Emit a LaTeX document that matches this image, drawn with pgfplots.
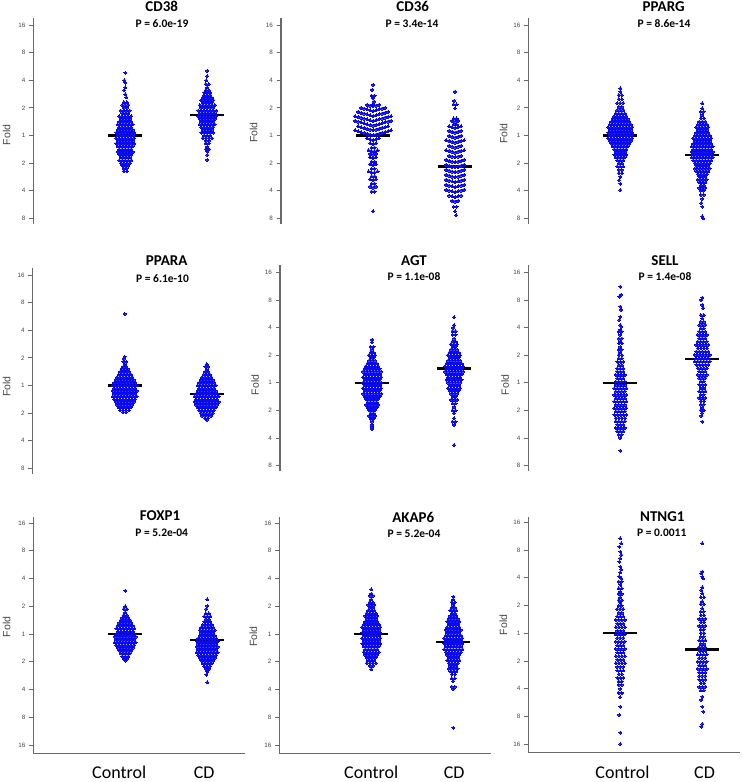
\documentclass[border=0pt]{standalone}
\usepackage{pgfplots}
\pgfplotsset{compat=1.18}
\usepackage{fontspec}
\setmainfont{Carlito}
\newfontfamily\arialf{Liberation Sans}
\definecolor{ptblue}{RGB}{10,10,240}
\definecolor{axgray}{RGB}{105,105,105}
\definecolor{lblgray}{RGB}{70,70,70}
\pgfplotsset{
 beebase/.style={scale only axis, width=212pt, xmin=0, xmax=212, clip=false,
   axis y line*=left, y axis line style={draw=axgray, line width=1.1pt},
   tick align=outside, major tick length=4.5pt,
   ytick style={draw=axgray, line width=0.8pt},
   yticklabel style={font=\arialf\fontsize{6.3}{7}\selectfont, text=lblgray},
   xtick=\empty, anchor=north west},
 toprow/.style={beebase, axis x line=none, ymin=-3.2, ymax=4.25, height=205.62pt,
   ytick={-3,-2,-1,0,1,2,3,4}, yticklabels={8,4,2,1,2,4,8,16}},
 botrow/.style={beebase, axis x line*=bottom, x axis line style={draw=axgray, line width=1.1pt},
   ymin=-4.3, ymax=4.2, height=235.875pt,
   ytick={-4,-3,-2,-1,0,1,2,3,4}, yticklabels={16,8,4,2,1,2,4,8,16}},
 pts/.style={color=ptblue, only marks, mark=*, mark size=1.5pt, mark options={draw=ptblue, fill=ptblue, line width=0pt}},
 med/.style={black, line width=2.3pt, mark=none},
}
\tikzset{
 ttl/.style={font=\bfseries\fontsize{15}{17}\selectfont, inner sep=0pt},
 pv/.style={font=\bfseries\fontsize{11.5}{13}\selectfont, inner sep=0pt},
 fold/.style={rotate=90, font=\arialf\fontsize{10.5}{12}\selectfont, text=lblgray, inner sep=0pt},
 grp/.style={font=\fontsize{18}{20}\selectfont, anchor=base, inner sep=0pt},
}
\begin{document}
\begin{tikzpicture}
\useasboundingbox (0pt,0pt) rectangle (742pt,-782pt);

% ===== CD38 =====
\begin{axis}[toprow, at={(33.3pt,-18.1pt)}]
\addplot[pts] coordinates {
(92,2.27)(91,2)(92,1.91)(92,1.74)(91,1.64)(92,1.49)(93,1.38)
(90.5,1.2)(93.5,1.2)
(89,1.1)(92,1.1)(95,1.1)
(90.5,1)(93.5,1)
(87.5,.9)(90.5,.9)(93.5,.9)(96.5,.9)
(89,.8)(92,.8)(95,.8)
(86,.7)(89,.7)(92,.7)(95,.7)(98,.7)
(87.5,.6)(90.5,.6)(93.5,.6)(96.5,.6)
(86,.5)(89,.5)(92,.5)(95,.5)(98,.5)
(84.5,.4)(87.5,.4)(90.5,.4)(93.5,.4)(96.5,.4)(99.5,.4)
(86,.3)(89,.3)(92,.3)(95,.3)(98,.3)
(84.5,.2)(87.5,.2)(90.5,.2)(93.5,.2)(96.5,.2)(99.5,.2)
(83,.1)(86,.1)(89,.1)(92,.1)(95,.1)(98,.1)(101,.1)
(84.5,0)(87.5,0)(90.5,0)(93.5,0)(96.5,0)(99.5,0)
(83,-.1)(86,-.1)(89,-.1)(92,-.1)(95,-.1)(98,-.1)(101,-.1)
(84.5,-.2)(87.5,-.2)(90.5,-.2)(93.5,-.2)(96.5,-.2)(99.5,-.2)
(83,-.3)(86,-.3)(89,-.3)(92,-.3)(95,-.3)(98,-.3)(101,-.3)
(84.5,-.4)(87.5,-.4)(90.5,-.4)(93.5,-.4)(96.5,-.4)(99.5,-.4)
(86,-.5)(89,-.5)(92,-.5)(95,-.5)(98,-.5)
(84.5,-.6)(87.5,-.6)(90.5,-.6)(93.5,-.6)(96.5,-.6)(99.5,-.6)
(86,-.7)(89,-.7)(92,-.7)(95,-.7)(98,-.7)
(87.5,-.8)(90.5,-.8)(93.5,-.8)(96.5,-.8)
(86,-.9)(89,-.9)(92,-.9)(95,-.9)(98,-.9)
(87.5,-1)(90.5,-1)(93.5,-1)(96.5,-1)
(89,-1.1)(92,-1.1)(95,-1.1)
(90.5,-1.2)(93.5,-1.2)
(90.5,-1.3)(93.5,-1.3)
};
\addplot[pts] coordinates {
(174,2.34)(174,2.15)(173,2)(172.5,1.86)(175.5,1.86)(174,1.74)(172.5,1.64)(175.5,1.64)
(171,1.55)(174,1.55)(177,1.55)
(171,1.46)(174,1.46)(177,1.46)
(169.5,1.37)(172.5,1.37)(175.5,1.37)(178.5,1.37)
(168,1.28)(171,1.28)(174,1.28)(177,1.28)(180,1.28)
(169.5,1.19)(172.5,1.19)(175.5,1.19)(178.5,1.19)
(166.5,1.1)(169.5,1.1)(172.5,1.1)(175.5,1.1)(178.5,1.1)(181.5,1.1)
(168,1)(171,1)(174,1)(177,1)(180,1)
(165,.9)(168,.9)(171,.9)(174,.9)(177,.9)(180,.9)(183,.9)
(166.5,.8)(169.5,.8)(172.5,.8)(175.5,.8)(178.5,.8)(181.5,.8)
(165,.7)(168,.7)(171,.7)(174,.7)(177,.7)(180,.7)(183,.7)
(166.5,.6)(169.5,.6)(172.5,.6)(175.5,.6)(178.5,.6)(181.5,.6)
(168,.5)(171,.5)(174,.5)(177,.5)(180,.5)
(166.5,.4)(169.5,.4)(172.5,.4)(175.5,.4)(178.5,.4)(181.5,.4)
(168,.3)(171,.3)(174,.3)(177,.3)(180,.3)
(169.5,.2)(172.5,.2)(175.5,.2)(178.5,.2)
(168,.1)(171,.1)(174,.1)(177,.1)(180,.1)
(171,0)(174,0)(177,0)
(169.5,-.1)(172.5,-.1)(175.5,-.1)(178.5,-.1)
(172.5,-.2)(175.5,-.2)
(172.5,-.29)(175.5,-.29)
(174,-.41)(172.5,-.5)(175.5,-.5)(174,-.59)(174,-.71)(174,-.89)
};
\addplot[med] coordinates {(75,0)(109,0)};
\addplot[med] coordinates {(157,.74)(191,.74)};
\end{axis}

% ===== CD36 =====
\begin{axis}[toprow, at={(281pt,-18.1pt)}]
\addplot[pts] coordinates {
(92,1.83)(91,1.65)(90.5,1.44)(93.5,1.44)(92,1.34)(93,1.22)(92,1.12)
(86,1.11)(89,1.08)(92,1.05)(95,1.08)(98,1.11)
(80,1.0)(83,.97)(86,.94)(89,.91)(92,.88)(95,.91)(98,.94)(101,.97)(104,1.0)
(77,.85)(80,.82)(83,.79)(86,.76)(89,.73)(92,.7)(95,.73)(98,.76)(101,.79)(104,.82)(107,.85)
(74,.7)(77,.67)(80,.64)(83,.61)(86,.58)(89,.55)(92,.52)(95,.55)(98,.58)(101,.61)(104,.64)(107,.67)(110,.7)
(74,.53)(77,.5)(80,.47)(83,.44)(86,.41)(89,.38)(92,.35)(95,.38)(98,.41)(101,.44)(104,.47)(107,.5)(110,.53)
(77,.33)(80,.3)(83,.27)(86,.24)(89,.21)(92,.18)(95,.21)(98,.24)(101,.27)(104,.3)(107,.33)
(74,.18)(77,.15)(80,.12)(83,.09)(86,.06)(89,.03)(92,0)(95,.03)(98,.06)(101,.09)(104,.12)(107,.15)(110,.18)
(86,-.11)(89,-.14)(92,-.17)(95,-.14)(98,-.11)
(89,-.29)(92,-.32)(95,-.29)
(90.5,-.44)(93.5,-.44)
(87.5,-.53)(90.5,-.57)(93.5,-.57)(96.5,-.53)
(89,-.67)(92,-.7)(95,-.67)
(89,-.8)(92,-.83)(95,-.8)
(90.5,-.95)(93.5,-.95)
(89,-1.04)(92,-1.07)(95,-1.04)
(90.5,-1.2)(93.5,-1.2)
(87.5,-1.3)(90.5,-1.34)(93.5,-1.34)(96.5,-1.3)
(90.5,-1.48)(93.5,-1.48)
(89,-1.59)(92,-1.62)(95,-1.59)
(90.5,-1.75)(93.5,-1.75)
(89,-1.86)(92,-1.89)(95,-1.86)
(90.5,-2.04)(93.5,-2.04)
(92,-2.74)
};
\addplot[pts] coordinates {
(174,1.58)(173,1.25)(172.5,1.12)(175.5,1.12)(174,.98)(172.5,.62)(175.5,.62)(171,.53)(174,.5)(177,.53)(172.5,.4)(175.5,.4)
(168,.33)(171,.3)(174,.27)(177,.3)(180,.33)
(168,.16)(171,.13)(174,.1)(177,.13)(180,.16)
(168,-.02)(171,-.05)(174,-.08)(177,-.05)(180,-.02)
(165,-.17)(168,-.2)(171,-.23)(174,-.26)(177,-.23)(180,-.2)(183,-.17)
(168,-.38)(171,-.41)(174,-.44)(177,-.41)(180,-.38)
(165,-.53)(168,-.56)(171,-.59)(174,-.62)(177,-.59)(180,-.56)(183,-.53)
(168,-.74)(171,-.77)(174,-.8)(177,-.77)(180,-.74)
(165,-.89)(168,-.92)(171,-.95)(174,-.98)(177,-.95)(180,-.92)(183,-.89)
(165,-1.07)(168,-1.1)(171,-1.13)(174,-1.16)(177,-1.13)(180,-1.1)(183,-1.07)
(165,-1.25)(168,-1.28)(171,-1.31)(174,-1.34)(177,-1.31)(180,-1.28)(183,-1.25)
(165,-1.43)(168,-1.46)(171,-1.49)(174,-1.52)(177,-1.49)(180,-1.46)(183,-1.43)
(165,-1.61)(168,-1.64)(171,-1.67)(174,-1.7)(177,-1.67)(180,-1.64)(183,-1.61)
(165,-1.79)(168,-1.82)(171,-1.85)(174,-1.88)(177,-1.85)(180,-1.82)(183,-1.79)
(165,-1.97)(168,-2.0)(171,-2.03)(174,-2.06)(177,-2.03)(180,-2.0)(183,-1.97)
(168,-2.18)(171,-2.21)(174,-2.24)(177,-2.21)(180,-2.18)
(171,-2.37)(174,-2.4)(177,-2.37)
(172.5,-2.58)(175.5,-2.58)(174,-2.75)(175,-2.9)
};
\addplot[med] coordinates {(75,0)(109,0)};
\addplot[med] coordinates {(157,-1.13)(191,-1.13)};
\end{axis}

% ===== PPARG =====
\begin{axis}[toprow, at={(528.3pt,-18.1pt)}]
\addplot[pts] coordinates {
(92,1.71)(92,1.58)
(90.5,1.46)(93.5,1.46)
(90.5,1.31)(93.5,1.31)
(89,1.17)(92,1.17)(95,1.17)
(90.5,1.04)(93.5,1.04)
(89,.92)(92,.92)(95,.92)
(87.5,.8)(90.5,.8)(93.5,.8)(96.5,.8)
(86,.7)(89,.7)(92,.7)(95,.7)(98,.7)
(84.5,.6)(87.5,.6)(90.5,.6)(93.5,.6)(96.5,.6)(99.5,.6)
(83,.5)(86,.5)(89,.5)(92,.5)(95,.5)(98,.5)(101,.5)
(81.5,.4)(84.5,.4)(87.5,.4)(90.5,.4)(93.5,.4)(96.5,.4)(99.5,.4)(102.5,.4)
(80,.3)(83,.3)(86,.3)(89,.3)(92,.3)(95,.3)(98,.3)(101,.3)(104,.3)
(81.5,.2)(84.5,.2)(87.5,.2)(90.5,.2)(93.5,.2)(96.5,.2)(99.5,.2)(102.5,.2)
(80,.1)(83,.1)(86,.1)(89,.1)(92,.1)(95,.1)(98,.1)(101,.1)(104,.1)
(81.5,0)(84.5,0)(87.5,0)(90.5,0)(93.5,0)(96.5,0)(99.5,0)(102.5,0)
(80,-.1)(83,-.1)(86,-.1)(89,-.1)(92,-.1)(95,-.1)(98,-.1)(101,-.1)(104,-.1)
(81.5,-.2)(84.5,-.2)(87.5,-.2)(90.5,-.2)(93.5,-.2)(96.5,-.2)(99.5,-.2)(102.5,-.2)
(83,-.3)(86,-.3)(89,-.3)(92,-.3)(95,-.3)(98,-.3)(101,-.3)
(84.5,-.4)(87.5,-.4)(90.5,-.4)(93.5,-.4)(96.5,-.4)(99.5,-.4)
(86,-.5)(89,-.5)(92,-.5)(95,-.5)(98,-.5)
(87.5,-.6)(90.5,-.6)(93.5,-.6)(96.5,-.6)
(86,-.7)(89,-.7)(92,-.7)(95,-.7)(98,-.7)
(87.5,-.8)(90.5,-.8)(93.5,-.8)(96.5,-.8)
(89,-.9)(92,-.9)(95,-.9)
(90.5,-1)(93.5,-1)
(89,-1.12)(92,-1.12)(95,-1.12)
(90.5,-1.25)(93.5,-1.25)
(90.5,-1.37)(93.5,-1.37)
(92,-1.5)(91,-1.62)(92,-1.75)(92,-1.98)
};
\addplot[pts] coordinates {
(174,1.16)(174,.98)(172.5,.86)(175.5,.86)(174,.74)(172.5,.62)(175.5,.62)
(171,.5)(174,.5)(177,.5)
(169.5,.4)(172.5,.4)(175.5,.4)(178.5,.4)
(168,.3)(171,.3)(174,.3)(177,.3)(180,.3)
(169.5,.2)(172.5,.2)(175.5,.2)(178.5,.2)
(168,.1)(171,.1)(174,.1)(177,.1)(180,.1)
(166.5,0)(169.5,0)(172.5,0)(175.5,0)(178.5,0)(181.5,0)
(165,-.1)(168,-.1)(171,-.1)(174,-.1)(177,-.1)(180,-.1)(183,-.1)
(166.5,-.2)(169.5,-.2)(172.5,-.2)(175.5,-.2)(178.5,-.2)(181.5,-.2)
(165,-.3)(168,-.3)(171,-.3)(174,-.3)(177,-.3)(180,-.3)(183,-.3)
(163.5,-.4)(166.5,-.4)(169.5,-.4)(172.5,-.4)(175.5,-.4)(178.5,-.4)(181.5,-.4)(184.5,-.4)
(165,-.5)(168,-.5)(171,-.5)(174,-.5)(177,-.5)(180,-.5)(183,-.5)
(163.5,-.6)(166.5,-.6)(169.5,-.6)(172.5,-.6)(175.5,-.6)(178.5,-.6)(181.5,-.6)(184.5,-.6)
(165,-.7)(168,-.7)(171,-.7)(174,-.7)(177,-.7)(180,-.7)(183,-.7)
(163.5,-.8)(166.5,-.8)(169.5,-.8)(172.5,-.8)(175.5,-.8)(178.5,-.8)(181.5,-.8)(184.5,-.8)
(165,-.9)(168,-.9)(171,-.9)(174,-.9)(177,-.9)(180,-.9)(183,-.9)
(166.5,-1)(169.5,-1)(172.5,-1)(175.5,-1)(178.5,-1)(181.5,-1)
(168,-1.1)(171,-1.1)(174,-1.1)(177,-1.1)(180,-1.1)
(166.5,-1.2)(169.5,-1.2)(172.5,-1.2)(175.5,-1.2)(178.5,-1.2)(181.5,-1.2)
(168,-1.3)(171,-1.3)(174,-1.3)(177,-1.3)(180,-1.3)
(169.5,-1.4)(172.5,-1.4)(175.5,-1.4)(178.5,-1.4)
(171,-1.5)(174,-1.5)(177,-1.5)
(169.5,-1.6)(172.5,-1.6)(175.5,-1.6)(178.5,-1.6)
(171,-1.7)(174,-1.7)(177,-1.7)
(172.5,-1.8)(175.5,-1.8)
(171,-1.9)(174,-1.9)(177,-1.9)
(172.5,-2)(175.5,-2)
(172.5,-2.15)(175.5,-2.15)
(174,-2.3)(173,-2.45)(174,-2.58)(174,-2.93)(175,-3.0)
};
\addplot[med] coordinates {(75,0)(109,0)};
\addplot[med] coordinates {(157,-.71)(191,-.71)};
\end{axis}

% ===== PPARA =====
\begin{axis}[toprow, at={(32.7pt,-268.1pt)}]
\addplot[pts] coordinates {
(92,2.59)(92,1.04)(91,.96)(90.5,.86)(93.5,.86)(92,.76)
(90.5,.68)(93.5,.68)
(89,.6)(92,.6)(95,.6)
(87.5,.5)(90.5,.5)(93.5,.5)(96.5,.5)
(86,.4)(89,.4)(92,.4)(95,.4)(98,.4)
(84.5,.3)(87.5,.3)(90.5,.3)(93.5,.3)(96.5,.3)(99.5,.3)
(83,.2)(86,.2)(89,.2)(92,.2)(95,.2)(98,.2)(101,.2)
(81.5,.1)(84.5,.1)(87.5,.1)(90.5,.1)(93.5,.1)(96.5,.1)(99.5,.1)(102.5,.1)
(80,0)(83,0)(86,0)(89,0)(92,0)(95,0)(98,0)(101,0)(104,0)
(81.5,-.1)(84.5,-.1)(87.5,-.1)(90.5,-.1)(93.5,-.1)(96.5,-.1)(99.5,-.1)(102.5,-.1)
(80,-.2)(83,-.2)(86,-.2)(89,-.2)(92,-.2)(95,-.2)(98,-.2)(101,-.2)(104,-.2)
(81.5,-.3)(84.5,-.3)(87.5,-.3)(90.5,-.3)(93.5,-.3)(96.5,-.3)(99.5,-.3)(102.5,-.3)
(80,-.4)(83,-.4)(86,-.4)(89,-.4)(92,-.4)(95,-.4)(98,-.4)(101,-.4)(104,-.4)
(81.5,-.5)(84.5,-.5)(87.5,-.5)(90.5,-.5)(93.5,-.5)(96.5,-.5)(99.5,-.5)(102.5,-.5)
(83,-.6)(86,-.6)(89,-.6)(92,-.6)(95,-.6)(98,-.6)(101,-.6)
(84.5,-.7)(87.5,-.7)(90.5,-.7)(93.5,-.7)(96.5,-.7)(99.5,-.7)
(86,-.8)(89,-.8)(92,-.8)(95,-.8)(98,-.8)
(87.5,-.9)(90.5,-.9)(93.5,-.9)(96.5,-.9)
(90.5,-.97)(93.5,-.97)
};
\addplot[pts] coordinates {
(174,.77)(172.5,.68)(175.5,.68)(174,.58)
(172.5,.5)(175.5,.5)
(171,.4)(174,.4)(177,.4)
(169.5,.3)(172.5,.3)(175.5,.3)(178.5,.3)
(168,.2)(171,.2)(174,.2)(177,.2)(180,.2)
(166.5,.1)(169.5,.1)(172.5,.1)(175.5,.1)(178.5,.1)(181.5,.1)
(165,0)(168,0)(171,0)(174,0)(177,0)(180,0)(183,0)
(166.5,-.1)(169.5,-.1)(172.5,-.1)(175.5,-.1)(178.5,-.1)(181.5,-.1)
(165,-.2)(168,-.2)(171,-.2)(174,-.2)(177,-.2)(180,-.2)(183,-.2)
(163.5,-.3)(166.5,-.3)(169.5,-.3)(172.5,-.3)(175.5,-.3)(178.5,-.3)(181.5,-.3)(184.5,-.3)
(162,-.4)(165,-.4)(168,-.4)(171,-.4)(174,-.4)(177,-.4)(180,-.4)(183,-.4)(186,-.4)
(163.5,-.5)(166.5,-.5)(169.5,-.5)(172.5,-.5)(175.5,-.5)(178.5,-.5)(181.5,-.5)(184.5,-.5)
(162,-.6)(165,-.6)(168,-.6)(171,-.6)(174,-.6)(177,-.6)(180,-.6)(183,-.6)(186,-.6)
(163.5,-.7)(166.5,-.7)(169.5,-.7)(172.5,-.7)(175.5,-.7)(178.5,-.7)(181.5,-.7)(184.5,-.7)
(165,-.8)(168,-.8)(171,-.8)(174,-.8)(177,-.8)(180,-.8)(183,-.8)
(166.5,-.9)(169.5,-.9)(172.5,-.9)(175.5,-.9)(178.5,-.9)(181.5,-.9)
(168,-1)(171,-1)(174,-1)(177,-1)(180,-1)
(169.5,-1.1)(172.5,-1.1)(175.5,-1.1)(178.5,-1.1)
(172.5,-1.19)(175.5,-1.19)(174,-1.25)
};
\addplot[med] coordinates {(75,0)(109,0)};
\addplot[med] coordinates {(157,-.32)(191,-.32)};
\end{axis}

% ===== AGT =====
\begin{axis}[toprow, at={(280pt,-265.4pt)}]
\addplot[pts] coordinates {
(92,1.55)(92,1.46)(90.5,1.3)(93.5,1.3)(92,1.2)(90.5,1.1)(93.5,1.1)
(89,1)(92,1)(95,1)
(90.5,.9)(93.5,.9)
(89,.8)(92,.8)(95,.8)
(87.5,.7)(90.5,.7)(93.5,.7)(96.5,.7)
(86,.6)(89,.6)(92,.6)(95,.6)(98,.6)
(84.5,.5)(87.5,.5)(90.5,.5)(93.5,.5)(96.5,.5)(99.5,.5)
(83,.4)(86,.4)(89,.4)(92,.4)(95,.4)(98,.4)(101,.4)
(84.5,.3)(87.5,.3)(90.5,.3)(93.5,.3)(96.5,.3)(99.5,.3)
(83,.2)(86,.2)(89,.2)(92,.2)(95,.2)(98,.2)(101,.2)
(84.5,.1)(87.5,.1)(90.5,.1)(93.5,.1)(96.5,.1)(99.5,.1)
(83,0)(86,0)(89,0)(92,0)(95,0)(98,0)(101,0)
(84.5,-.1)(87.5,-.1)(90.5,-.1)(93.5,-.1)(96.5,-.1)(99.5,-.1)
(83,-.2)(86,-.2)(89,-.2)(92,-.2)(95,-.2)(98,-.2)(101,-.2)
(84.5,-.3)(87.5,-.3)(90.5,-.3)(93.5,-.3)(96.5,-.3)(99.5,-.3)
(83,-.4)(86,-.4)(89,-.4)(92,-.4)(95,-.4)(98,-.4)(101,-.4)
(84.5,-.5)(87.5,-.5)(90.5,-.5)(93.5,-.5)(96.5,-.5)(99.5,-.5)
(86,-.6)(89,-.6)(92,-.6)(95,-.6)(98,-.6)
(87.5,-.7)(90.5,-.7)(93.5,-.7)(96.5,-.7)
(86,-.8)(89,-.8)(92,-.8)(95,-.8)(98,-.8)
(87.5,-.9)(90.5,-.9)(93.5,-.9)(96.5,-.9)
(89,-1)(92,-1)(95,-1)
(90.5,-1.1)(93.5,-1.1)
(89,-1.2)(92,-1.2)(95,-1.2)
(90.5,-1.3)(93.5,-1.3)
(92,-1.41)(92,-1.52)(92,-1.6)(92,-1.67)
};
\addplot[pts] coordinates {
(174,2.37)(174,2.09)(173,1.99)(172.5,1.87)(175.5,1.87)(172.5,1.73)(175.5,1.73)(174,1.6)
(172.5,1.5)(175.5,1.5)
(171,1.4)(174,1.4)(177,1.4)
(172.5,1.3)(175.5,1.3)
(171,1.2)(174,1.2)(177,1.2)
(169.5,1.1)(172.5,1.1)(175.5,1.1)(178.5,1.1)
(168,1)(171,1)(174,1)(177,1)(180,1)
(169.5,.9)(172.5,.9)(175.5,.9)(178.5,.9)
(168,.8)(171,.8)(174,.8)(177,.8)(180,.8)
(166.5,.7)(169.5,.7)(172.5,.7)(175.5,.7)(178.5,.7)(181.5,.7)
(165,.6)(168,.6)(171,.6)(174,.6)(177,.6)(180,.6)(183,.6)
(166.5,.5)(169.5,.5)(172.5,.5)(175.5,.5)(178.5,.5)(181.5,.5)
(165,.4)(168,.4)(171,.4)(174,.4)(177,.4)(180,.4)(183,.4)
(166.5,.3)(169.5,.3)(172.5,.3)(175.5,.3)(178.5,.3)(181.5,.3)
(168,.2)(171,.2)(174,.2)(177,.2)(180,.2)
(166.5,.1)(169.5,.1)(172.5,.1)(175.5,.1)(178.5,.1)(181.5,.1)
(168,0)(171,0)(174,0)(177,0)(180,0)
(169.5,-.1)(172.5,-.1)(175.5,-.1)(178.5,-.1)
(168,-.2)(171,-.2)(174,-.2)(177,-.2)(180,-.2)
(169.5,-.3)(172.5,-.3)(175.5,-.3)(178.5,-.3)
(171,-.4)(174,-.4)(177,-.4)
(172.5,-.5)(175.5,-.5)
(171,-.62)(174,-.62)(177,-.62)
(172.5,-.75)(175.5,-.75)
(174,-.88)(172.5,-1)(175.5,-1)(174,-1.1)(174,-1.29)(172.5,-1.41)(175.5,-1.41)(174,-1.53)(174,-2.26)
};
\addplot[med] coordinates {(75,0)(109,0)};
\addplot[med] coordinates {(157,.52)(191,.52)};
\end{axis}

% ===== SELL =====
\begin{axis}[toprow, at={(528.3pt,-265.4pt)}]
\addplot[pts] coordinates {
(92,3.48)(93,3.19)(91,3.12)(92,2.76)(93,2.64)(92,2.39)(91,2.27)(92,2.09)(93,2.03)(92,1.92)
(90.5,1.85)(93.5,1.85)(92,1.73)(90.5,1.6)(93.5,1.6)(92,1.5)(90.5,1.43)(93.5,1.43)(92,1.3)
(90.5,1.2)(93.5,1.2)(92,1.1)
(90.5,1)(93.5,1)
(90.5,.88)(93.5,.88)
(89,.76)(92,.76)(95,.76)
(90.5,.64)(93.5,.64)
(89,.52)(92,.52)(95,.52)
(89,.4)(92,.4)(95,.4)
(87.5,.28)(90.5,.28)(93.5,.28)(96.5,.28)
(89,.16)(92,.16)(95,.16)
(87.5,.04)(90.5,.04)(93.5,.04)(96.5,.04)
(87.5,-.08)(90.5,-.08)(93.5,-.08)(96.5,-.08)
(86,-.2)(89,-.2)(92,-.2)(95,-.2)(98,-.2)
(87.5,-.32)(90.5,-.32)(93.5,-.32)(96.5,-.32)
(86,-.44)(89,-.44)(92,-.44)(95,-.44)(98,-.44)
(87.5,-.56)(90.5,-.56)(93.5,-.56)(96.5,-.56)
(86,-.68)(89,-.68)(92,-.68)(95,-.68)(98,-.68)
(87.5,-.8)(90.5,-.8)(93.5,-.8)(96.5,-.8)
(86,-.92)(89,-.92)(92,-.92)(95,-.92)(98,-.92)
(87.5,-1.04)(90.5,-1.04)(93.5,-1.04)(96.5,-1.04)
(86,-1.16)(89,-1.16)(92,-1.16)(95,-1.16)(98,-1.16)
(87.5,-1.28)(90.5,-1.28)(93.5,-1.28)(96.5,-1.28)
(87.5,-1.4)(90.5,-1.4)(93.5,-1.4)(96.5,-1.4)
(89,-1.52)(92,-1.52)(95,-1.52)
(87.5,-1.64)(90.5,-1.64)(93.5,-1.64)(96.5,-1.64)
(89,-1.76)(92,-1.76)(95,-1.76)
(90.5,-1.88)(93.5,-1.88)
(92,-2)(92,-2.46)
};
\addplot[pts] coordinates {
(174,3.08)(173,3.0)(174,2.82)(175,2.7)(172.5,2.45)(175.5,2.45)(174,2.33)
(172.5,2.21)(175.5,2.21)
(171,2.09)(174,2.09)(177,2.09)
(172.5,1.97)(175.5,1.97)
(171,1.85)(174,1.85)(177,1.85)
(169.5,1.73)(172.5,1.73)(175.5,1.73)(178.5,1.73)
(171,1.61)(174,1.61)(177,1.61)
(169.5,1.49)(172.5,1.49)(175.5,1.49)(178.5,1.49)
(168,1.37)(171,1.37)(174,1.37)(177,1.37)(180,1.37)
(169.5,1.25)(172.5,1.25)(175.5,1.25)(178.5,1.25)
(168,1.13)(171,1.13)(174,1.13)(177,1.13)(180,1.13)
(166.5,1.01)(169.5,1.01)(172.5,1.01)(175.5,1.01)(178.5,1.01)(181.5,1.01)
(168,.89)(171,.89)(174,.89)(177,.89)(180,.89)
(166.5,.77)(169.5,.77)(172.5,.77)(175.5,.77)(178.5,.77)(181.5,.77)
(168,.65)(171,.65)(174,.65)(177,.65)(180,.65)
(169.5,.53)(172.5,.53)(175.5,.53)(178.5,.53)
(171,.41)(174,.41)(177,.41)
(169.5,.29)(172.5,.29)(175.5,.29)(178.5,.29)
(171,.17)(174,.17)(177,.17)
(172.5,.05)(175.5,.05)
(171,-.07)(174,-.07)(177,-.07)
(172.5,-.19)(175.5,-.19)
(171,-.31)(174,-.31)(177,-.31)
(172.5,-.43)(175.5,-.43)
(171,-.55)(174,-.55)(177,-.55)
(172.5,-.67)(175.5,-.67)
(172.5,-.79)(175.5,-.79)
(174,-.9)(172.5,-1)(175.5,-1)(174,-1.1)(173,-1.2)(174,-1.41)
};
\addplot[med] coordinates {(75,0)(109,0)};
\addplot[med] coordinates {(157,.86)(191,.86)};
\end{axis}

% ===== FOXP1 =====
\begin{axis}[botrow, at={(33.3pt,-517.45pt)}]
\addplot[pts] coordinates {
(92,1.56)(92,1)(90.5,.9)(93.5,.9)(92,.78)
(90.5,.68)(93.5,.68)
(89,.58)(92,.58)(95,.58)
(87.5,.5)(90.5,.5)(93.5,.5)(96.5,.5)
(86,.4)(89,.4)(92,.4)(95,.4)(98,.4)
(84.5,.3)(87.5,.3)(90.5,.3)(93.5,.3)(96.5,.3)(99.5,.3)
(83,.2)(86,.2)(89,.2)(92,.2)(95,.2)(98,.2)(101,.2)
(84.5,.1)(87.5,.1)(90.5,.1)(93.5,.1)(96.5,.1)(99.5,.1)
(83,0)(86,0)(89,0)(92,0)(95,0)(98,0)(101,0)
(81.5,-.1)(84.5,-.1)(87.5,-.1)(90.5,-.1)(93.5,-.1)(96.5,-.1)(99.5,-.1)(102.5,-.1)
(83,-.2)(86,-.2)(89,-.2)(92,-.2)(95,-.2)(98,-.2)(101,-.2)
(81.5,-.3)(84.5,-.3)(87.5,-.3)(90.5,-.3)(93.5,-.3)(96.5,-.3)(99.5,-.3)(102.5,-.3)
(83,-.4)(86,-.4)(89,-.4)(92,-.4)(95,-.4)(98,-.4)(101,-.4)
(84.5,-.5)(87.5,-.5)(90.5,-.5)(93.5,-.5)(96.5,-.5)(99.5,-.5)
(86,-.6)(89,-.6)(92,-.6)(95,-.6)(98,-.6)
(87.5,-.7)(90.5,-.7)(93.5,-.7)(96.5,-.7)
(89,-.8)(92,-.8)(95,-.8)
(90.5,-.9)(93.5,-.9)(92,-.96)
};
\addplot[pts] coordinates {
(174,1.25)(174,1.01)(173,.9)(172.5,.74)(175.5,.74)
(171,.64)(174,.64)(177,.64)
(172.5,.54)(175.5,.54)
(171,.44)(174,.44)(177,.44)
(169.5,.34)(172.5,.34)(175.5,.34)(178.5,.34)
(168,.24)(171,.24)(174,.24)(177,.24)(180,.24)
(166.5,.14)(169.5,.14)(172.5,.14)(175.5,.14)(178.5,.14)(181.5,.14)
(168,.04)(171,.04)(174,.04)(177,.04)(180,.04)
(166.5,-.06)(169.5,-.06)(172.5,-.06)(175.5,-.06)(178.5,-.06)(181.5,-.06)
(165,-.16)(168,-.16)(171,-.16)(174,-.16)(177,-.16)(180,-.16)(183,-.16)
(163.5,-.26)(166.5,-.26)(169.5,-.26)(172.5,-.26)(175.5,-.26)(178.5,-.26)(181.5,-.26)(184.5,-.26)
(165,-.36)(168,-.36)(171,-.36)(174,-.36)(177,-.36)(180,-.36)(183,-.36)
(163.5,-.46)(166.5,-.46)(169.5,-.46)(172.5,-.46)(175.5,-.46)(178.5,-.46)(181.5,-.46)(184.5,-.46)
(165,-.56)(168,-.56)(171,-.56)(174,-.56)(177,-.56)(180,-.56)(183,-.56)
(163.5,-.66)(166.5,-.66)(169.5,-.66)(172.5,-.66)(175.5,-.66)(178.5,-.66)(181.5,-.66)(184.5,-.66)
(165,-.76)(168,-.76)(171,-.76)(174,-.76)(177,-.76)(180,-.76)(183,-.76)
(166.5,-.86)(169.5,-.86)(172.5,-.86)(175.5,-.86)(178.5,-.86)(181.5,-.86)
(168,-.96)(171,-.96)(174,-.96)(177,-.96)(180,-.96)
(169.5,-1.06)(172.5,-1.06)(175.5,-1.06)(178.5,-1.06)
(171,-1.16)(174,-1.16)(177,-1.16)
(172.5,-1.26)(175.5,-1.26)
(174,-1.36)(173,-1.47)(174,-1.74)
};
\addplot[med] coordinates {(75,0)(109,0)};
\addplot[med] coordinates {(157,-.22)(191,-.22)};
\end{axis}

% ===== AKAP6 =====
\begin{axis}[botrow, at={(279.3pt,-517.45pt)}]
\addplot[pts] coordinates {
(92,1.61)(92,1.45)(90.5,1.38)(93.5,1.38)(92,1.25)(90.5,1.15)(93.5,1.15)
(89,1.05)(92,1.05)(95,1.05)
(90.5,.95)(93.5,.95)
(89,.85)(92,.85)(95,.85)
(87.5,.75)(90.5,.75)(93.5,.75)(96.5,.75)
(86,.65)(89,.65)(92,.65)(95,.65)(98,.65)
(87.5,.55)(90.5,.55)(93.5,.55)(96.5,.55)
(86,.45)(89,.45)(92,.45)(95,.45)(98,.45)
(84.5,.35)(87.5,.35)(90.5,.35)(93.5,.35)(96.5,.35)(99.5,.35)
(83,.25)(86,.25)(89,.25)(92,.25)(95,.25)(98,.25)(101,.25)
(84.5,.15)(87.5,.15)(90.5,.15)(93.5,.15)(96.5,.15)(99.5,.15)
(83,.05)(86,.05)(89,.05)(92,.05)(95,.05)(98,.05)(101,.05)
(84.5,-.05)(87.5,-.05)(90.5,-.05)(93.5,-.05)(96.5,-.05)(99.5,-.05)
(83,-.15)(86,-.15)(89,-.15)(92,-.15)(95,-.15)(98,-.15)(101,-.15)
(84.5,-.25)(87.5,-.25)(90.5,-.25)(93.5,-.25)(96.5,-.25)(99.5,-.25)
(83,-.35)(86,-.35)(89,-.35)(92,-.35)(95,-.35)(98,-.35)(101,-.35)
(84.5,-.45)(87.5,-.45)(90.5,-.45)(93.5,-.45)(96.5,-.45)(99.5,-.45)
(86,-.55)(89,-.55)(92,-.55)(95,-.55)(98,-.55)
(84.5,-.65)(87.5,-.65)(90.5,-.65)(93.5,-.65)(96.5,-.65)(99.5,-.65)
(86,-.75)(89,-.75)(92,-.75)(95,-.75)(98,-.75)
(87.5,-.85)(90.5,-.85)(93.5,-.85)(96.5,-.85)
(89,-.95)(92,-.95)(95,-.95)
(87.5,-1.05)(90.5,-1.05)(93.5,-1.05)(96.5,-1.05)
(90.5,-1.15)(93.5,-1.15)(92,-1.27)
};
\addplot[pts] coordinates {
(174,1.35)(174,1.25)(172.5,1.15)(175.5,1.15)(174,1.05)
(172.5,.95)(175.5,.95)
(171,.85)(174,.85)(177,.85)
(172.5,.75)(175.5,.75)
(171,.65)(174,.65)(177,.65)
(169.5,.55)(172.5,.55)(175.5,.55)(178.5,.55)
(168,.45)(171,.45)(174,.45)(177,.45)(180,.45)
(169.5,.35)(172.5,.35)(175.5,.35)(178.5,.35)
(168,.25)(171,.25)(174,.25)(177,.25)(180,.25)
(166.5,.15)(169.5,.15)(172.5,.15)(175.5,.15)(178.5,.15)(181.5,.15)
(168,.05)(171,.05)(174,.05)(177,.05)(180,.05)
(166.5,-.05)(169.5,-.05)(172.5,-.05)(175.5,-.05)(178.5,-.05)(181.5,-.05)
(165,-.15)(168,-.15)(171,-.15)(174,-.15)(177,-.15)(180,-.15)(183,-.15)
(166.5,-.25)(169.5,-.25)(172.5,-.25)(175.5,-.25)(178.5,-.25)(181.5,-.25)
(165,-.35)(168,-.35)(171,-.35)(174,-.35)(177,-.35)(180,-.35)(183,-.35)
(166.5,-.45)(169.5,-.45)(172.5,-.45)(175.5,-.45)(178.5,-.45)(181.5,-.45)
(165,-.55)(168,-.55)(171,-.55)(174,-.55)(177,-.55)(180,-.55)(183,-.55)
(166.5,-.65)(169.5,-.65)(172.5,-.65)(175.5,-.65)(178.5,-.65)(181.5,-.65)
(168,-.75)(171,-.75)(174,-.75)(177,-.75)(180,-.75)
(169.5,-.85)(172.5,-.85)(175.5,-.85)(178.5,-.85)
(168,-.95)(171,-.95)(174,-.95)(177,-.95)(180,-.95)
(169.5,-1.05)(172.5,-1.05)(175.5,-1.05)(178.5,-1.05)
(171,-1.15)(174,-1.15)(177,-1.15)
(169.5,-1.25)(172.5,-1.25)(175.5,-1.25)(178.5,-1.25)
(171,-1.35)(174,-1.35)(177,-1.35)
(172.5,-1.45)(175.5,-1.45)
(172.5,-1.6)(175.5,-1.6)(174,-1.7)
(172.5,-1.9)(175.5,-1.9)(174,-1.98)(174,-3.38)
};
\addplot[med] coordinates {(75,0)(109,0)};
\addplot[med] coordinates {(157,-.28)(191,-.28)};
\end{axis}

% ===== NTNG1 =====
\begin{axis}[botrow, at={(528.3pt,-516.75pt)}]
\addplot[pts] coordinates {
(92,3.42)(93,3.24)(91,3.12)(92,2.94)(93,2.82)(92,2.7)(91,2.58)(92,2.4)(93,2.3)(92,2.2)(91,2.05)(93,1.98)
(90.5,1.86)(93.5,1.86)(92,1.75)(90.5,1.62)(93.5,1.62)(92,1.5)(90.5,1.42)(93.5,1.42)(92,1.3)
(90.5,1.2)(93.5,1.2)(92,1.1)
(90.5,1)(93.5,1)
(89,.87)(92,.87)(95,.87)
(90.5,.74)(93.5,.74)
(89,.61)(92,.61)(95,.61)
(87.5,.48)(90.5,.48)(93.5,.48)(96.5,.48)
(89,.35)(92,.35)(95,.35)
(87.5,.22)(90.5,.22)(93.5,.22)(96.5,.22)
(89,.09)(92,.09)(95,.09)
(87.5,-.04)(90.5,-.04)(93.5,-.04)(96.5,-.04)
(89,-.17)(92,-.17)(95,-.17)
(87.5,-.3)(90.5,-.3)(93.5,-.3)(96.5,-.3)
(89,-.43)(92,-.43)(95,-.43)
(87.5,-.56)(90.5,-.56)(93.5,-.56)(96.5,-.56)
(89,-.69)(92,-.69)(95,-.69)
(87.5,-.82)(90.5,-.82)(93.5,-.82)(96.5,-.82)
(89,-.95)(92,-.95)(95,-.95)
(87.5,-1.08)(90.5,-1.08)(93.5,-1.08)(96.5,-1.08)
(89,-1.21)(92,-1.21)(95,-1.21)
(89,-1.34)(92,-1.34)(95,-1.34)
(90.5,-1.47)(93.5,-1.47)
(89,-1.6)(92,-1.6)(95,-1.6)
(90.5,-1.73)(93.5,-1.73)
(90.5,-1.86)(93.5,-1.86)
(92,-2)(90.5,-2.15)(93.5,-2.15)(92,-2.3)(92,-2.64)(91,-2.94)(92,-3.58)(92,-3.99)
};
\addplot[pts] coordinates {
(174,3.24)(174,2.22)(173,2.16)(174,2.04)(175,1.98)(174,1.66)(173,1.56)(174,1.44)
(172.5,1.3)(175.5,1.3)(174,1.15)(172.5,1.05)(175.5,1.05)(174,.9)
(172.5,.78)(175.5,.78)
(172.5,.65)(175.5,.65)
(171,.52)(174,.52)(177,.52)
(172.5,.4)(175.5,.4)
(171,.27)(174,.27)(177,.27)
(172.5,.14)(175.5,.14)
(172.5,.01)(175.5,.01)
(172.5,-.12)(175.5,-.12)
(171,-.25)(174,-.25)(177,-.25)
(172.5,-.38)(175.5,-.38)
(171,-.5)(174,-.5)(177,-.5)
(171,-.63)(174,-.63)(177,-.63)
(169.5,-.76)(172.5,-.76)(175.5,-.76)(178.5,-.76)
(171,-.89)(174,-.89)(177,-.89)
(169.5,-1.02)(172.5,-1.02)(175.5,-1.02)(178.5,-1.02)
(171,-1.15)(174,-1.15)(177,-1.15)
(169.5,-1.28)(172.5,-1.28)(175.5,-1.28)(178.5,-1.28)
(171,-1.41)(174,-1.41)(177,-1.41)
(171,-1.54)(174,-1.54)(177,-1.54)
(171,-1.67)(174,-1.67)(177,-1.67)
(172.5,-1.8)(175.5,-1.8)
(171,-1.93)(174,-1.93)(177,-1.93)
(172.5,-2.06)(175.5,-2.06)
(174,-2.28)(173,-2.4)(174,-2.64)(175,-2.82)(174,-3.27)(173,-3.36)
};
\addplot[med] coordinates {(75,0)(109,0)};
\addplot[med] coordinates {(157,-.58)(191,-.58)};
\end{axis}

% ===== titles and labels =====
\node[ttl] at (161.7pt,-6.7pt) {CD38};
\node[pv]  at (162pt,-24pt) {P = 6.0e-19};
\node[ttl] at (412.7pt,-6.3pt) {CD36};
\node[pv]  at (412pt,-23.3pt) {P = 3.4e-14};
\node[ttl] at (663.7pt,-6.3pt) {PPARG};
\node[pv]  at (664pt,-24pt) {P = 8.6e-14};
\node[ttl] at (166.7pt,-261pt) {PPARA};
\node[pv]  at (162.5pt,-278.3pt) {P = 6.1e-10};
\node[ttl] at (414pt,-261pt) {AGT};
\node[pv]  at (414pt,-277pt) {P = 1.1e-08};
\node[ttl] at (665pt,-260.3pt) {SELL};
\node[pv]  at (665pt,-277pt) {P = 1.4e-08};
\node[ttl] at (160pt,-516pt) {FOXP1};
\node[pv]  at (161.7pt,-532.7pt) {P = 5.2e-04};
\node[ttl] at (413.3pt,-517.3pt) {AKAP6};
\node[pv]  at (414pt,-533.3pt) {P = 5.2e-04};
\node[ttl] at (662.3pt,-516.7pt) {NTNG1};
\node[pv]  at (661.7pt,-532.7pt) {P = 0.0011};

\node[fold] at (6.7pt,-135pt) {Fold};
\node[fold] at (253.7pt,-132.7pt) {Fold};
\node[fold] at (503.7pt,-133.7pt) {Fold};
\node[fold] at (6.7pt,-386.7pt) {Fold};
\node[fold] at (255pt,-385pt) {Fold};
\node[fold] at (505pt,-385pt) {Fold};
\node[fold] at (6.7pt,-627pt) {Fold};
\node[fold] at (253.3pt,-636.7pt) {Fold};
\node[fold] at (503.3pt,-625pt) {Fold};

\node[grp] at (119.2pt,-778.5pt) {Control};
\node[grp] at (204.2pt,-778.5pt) {CD};
\node[grp] at (371.2pt,-778.5pt) {Control};
\node[grp] at (454.2pt,-778.5pt) {CD};
\node[grp] at (622.5pt,-778.5pt) {Control};
\node[grp] at (704.5pt,-778.5pt) {CD};
\end{tikzpicture}
\end{document}
